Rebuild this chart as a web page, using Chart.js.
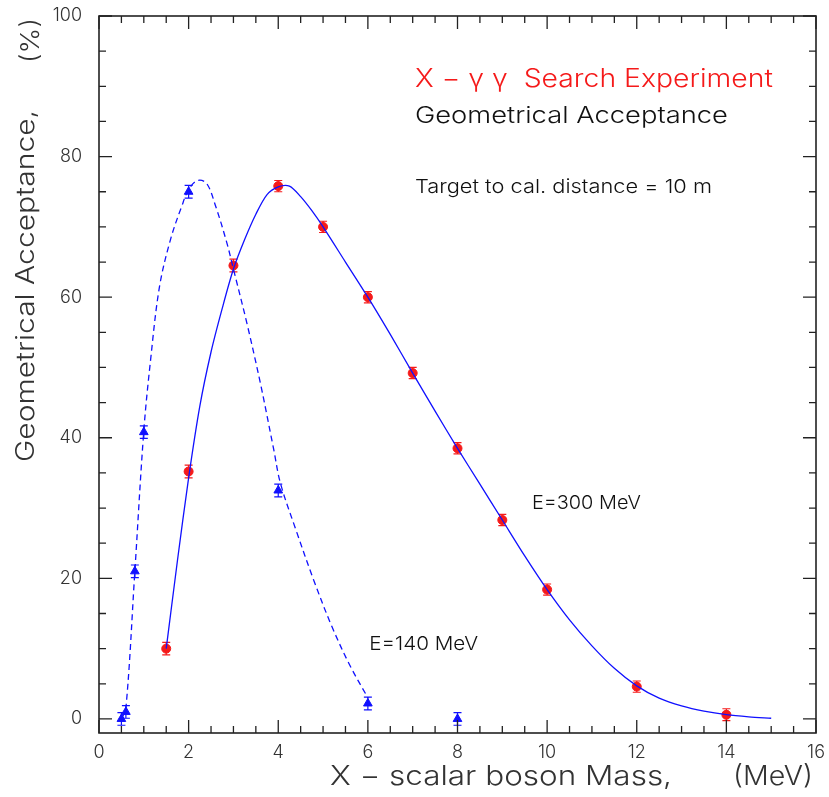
<!DOCTYPE html>
<html><head><meta charset="utf-8">
<script src="https://cdn.jsdelivr.net/npm/chart.js@4.4.0/dist/chart.umd.min.js"></script>
<style>html,body{margin:0;padding:0;background:#fff;}canvas{display:block;}</style>
</head><body>
<canvas id="c" width="829" height="797"></canvas>
<script>
// ---- data ----
const massE300 = [1.5, 2, 3, 4, 5, 6, 7, 8, 9, 10, 12, 14];
const accE300  = [10, 35.2, 64.5, 75.8, 70, 60, 49.2, 38.5, 28.3, 18.4, 4.6, 0.6];
const errE300  = [0.9, 0.9, 0.9, 0.8, 0.8, 0.8, 0.8, 0.8, 0.8, 0.8, 0.8, 0.85];

const massE140 = [0.5, 0.6, 0.8, 1.0, 2, 4, 6, 8];
const accE140  = [0, 1, 21, 40.8, 75, 32.5, 2.2, 0];
const errE140  = [0.9, 0.9, 0.9, 0.9, 0.9, 0.9, 0.9, 0.9];

const fitE300X = [1.5, 1.75, 2.0, 2.25, 2.5, 2.75, 3.0, 3.25, 3.5, 3.75, 4.0, 4.25, 4.5, 4.75, 5.0, 5.5, 6.0, 6.5, 7.0, 7.5, 8.0, 8.5, 9.0, 9.5, 10.0, 10.5, 11.0, 11.5, 12.0, 12.5, 13.0, 13.5, 14.0, 14.5, 15.0];
const fitE300Y = [10, 22.5, 34.3, 44.5, 52.2, 58.4, 64, 68.2, 71.8, 74.6, 75.7, 75.8, 74.3, 72.3, 70, 65, 60, 54.7, 49.2, 43.8, 38.5, 33.4, 28.3, 23.2, 18.4, 14.1, 10.4, 7.2, 4.7, 2.95, 1.85, 1.1, 0.6, 0.3, 0.1];

const fitE140X = [0.5, 0.6, 0.8, 1.0, 1.15, 1.35, 1.6, 1.85, 2.0, 2.2, 2.4, 2.6, 2.85, 3.0, 3.3, 3.6, 3.9, 4.05, 4.4, 4.8, 5.2, 5.6, 6.0];
const fitE140Y = [0, 1.5, 21, 41, 51, 61.5, 68.3, 73, 75.3, 76.6, 76.2, 73, 67.8, 64, 56.3, 47.8, 38.3, 33.5, 26.8, 19.6, 13.1, 7.6, 3.0];

const xTickValues = [0, 2, 4, 6, 8, 10, 12, 14, 16];
const yTickValues = [0, 20, 40, 60, 80, 100];

const titleText  = 'X \u2212 \u03b3 \u03b3  Search Experiment';
const subText    = 'Geometrical Acceptance';
const distText   = 'Target to cal. distance = 10 m';
const label300   = 'E=300 MeV';
const label140   = 'E=140 MeV';
const xTitleMain = 'X \u2212 scalar boson Mass,';
const xTitleUnit = '(MeV)';
const yTitleMain = 'Geometrical Acceptance,';
const yTitleUnit = '(%)';

// ---- styling ----
const FAM = 'Inter, "Open Sans", sans-serif';
const WT = '300';
const RED = '#f51a1a';
const BLUE = '#1010ff';

function pts(xs, ys) { return xs.map((x, i) => ({x: x, y: ys[i]})); }

function drawText(ctx, s, x, y, size, color, width, rot) {
  ctx.save();
  ctx.font = WT + ' ' + size + 'px ' + FAM;
  ctx.fillStyle = color;
  ctx.textAlign = 'left';
  ctx.textBaseline = 'alphabetic';
  const m = ctx.measureText(s).width;
  ctx.translate(x, y);
  if (rot) ctx.rotate(rot);
  if (width) ctx.scale(width / m, 1);
  ctx.fillText(s, 0, 0);
  ctx.restore();
}

const extras = {
  id: 'extras',
  beforeDatasetsDraw(chart) {
    const ctx = chart.ctx, xs = chart.scales.x, ys = chart.scales.y;
    const bars = [[massE300, accE300, errE300, RED], [massE140, accE140, errE140, BLUE]];
    ctx.save();
    ctx.lineWidth = 1.2;
    bars.forEach(([mx, my, me, col]) => {
      ctx.strokeStyle = col;
      mx.forEach((m, i) => {
        const px = xs.getPixelForValue(m);
        const y1 = ys.getPixelForValue(my[i] + me[i]);
        const y2 = ys.getPixelForValue(my[i] - me[i]);
        ctx.beginPath();
        ctx.moveTo(px, y1); ctx.lineTo(px, y2);
        ctx.moveTo(px - 4, y1); ctx.lineTo(px + 4, y1);
        ctx.moveTo(px - 4, y2); ctx.lineTo(px + 4, y2);
        ctx.stroke();
      });
    });
    ctx.restore();
  },
  afterDraw(chart) {
    const ctx = chart.ctx, xs = chart.scales.x, ys = chart.scales.y;
    const a = chart.chartArea;
    ctx.save();
    ctx.strokeStyle = '#222';
    ctx.lineWidth = 1.6;
    ctx.strokeRect(a.left, a.top, a.right - a.left, a.bottom - a.top);
    ctx.lineWidth = 1.3;
    ctx.beginPath();
    for (let v = 0; v <= 16.001; v += 0.5) {
      const px = xs.getPixelForValue(v);
      const len = (Math.abs(v % 2) < 1e-6) ? 13 : 7;
      ctx.moveTo(px, a.bottom); ctx.lineTo(px, a.bottom - len);
      ctx.moveTo(px, a.top); ctx.lineTo(px, a.top + len);
    }
    for (let v = 0; v <= 100.001; v += 5) {
      const py = ys.getPixelForValue(v);
      const len = (Math.abs(v % 20) < 1e-6) ? 13 : 7;
      ctx.moveTo(a.left, py); ctx.lineTo(a.left + len, py);
      ctx.moveTo(a.right, py); ctx.lineTo(a.right - len, py);
    }
    ctx.stroke();
    ctx.restore();

    // annotations placed in data coordinates
    drawText(ctx, titleText, xs.getPixelForValue(7.05), ys.getPixelForValue(89.9), 25, RED, 358);
    drawText(ctx, subText, xs.getPixelForValue(7.05), ys.getPixelForValue(84.8), 23, '#111', 313);
    drawText(ctx, distText, xs.getPixelForValue(7.05), ys.getPixelForValue(74.8), 19, '#111', 297);
    drawText(ctx, label300, xs.getPixelForValue(9.66), ys.getPixelForValue(29.9), 19, '#111', 109);
    drawText(ctx, label140, xs.getPixelForValue(6.03), ys.getPixelForValue(9.8), 19, '#111', 109);

    // axis titles
    drawText(ctx, xTitleMain, a.left + 231, a.bottom + 52, 27, '#333', 342);
    drawText(ctx, xTitleUnit, a.right - 83, a.bottom + 52, 27, '#333', 80);
    drawText(ctx, yTitleMain, 34, a.top + 446, 25, '#333', 352, -Math.PI / 2);
    drawText(ctx, yTitleUnit, 39, a.top + 47, 25, '#333', 45, -Math.PI / 2);
  }
};

new Chart(document.getElementById('c'), {
  type: 'scatter',
  data: {
    datasets: [
      {data: pts(fitE300X, fitE300Y), showLine: true, borderColor: BLUE, borderWidth: 1.3,
       pointRadius: 0, tension: 0.3, fill: false},
      {data: pts(fitE140X, fitE140Y), showLine: true, borderColor: BLUE, borderWidth: 1.3,
       borderDash: [6, 4], pointRadius: 0, tension: 0.35, fill: false},
      {data: pts(massE300, accE300), pointStyle: 'circle', pointRadius: 4.5,
       backgroundColor: RED, borderColor: RED, borderWidth: 1},
      {data: pts(massE140, accE140), pointStyle: 'triangle', pointRadius: 5,
       backgroundColor: BLUE, borderColor: BLUE, borderWidth: 1}
    ]
  },
  options: {
    responsive: false, animation: false, devicePixelRatio: 1,
    layout: {padding: {top: 16, right: 13, left: 0, bottom: 0}},
    plugins: {legend: {display: false}, tooltip: {enabled: false}},
    scales: {
      x: {
        type: 'linear', min: 0, max: 16,
        grid: {display: false, drawTicks: false}, border: {display: false},
        ticks: {padding: 9, color: '#333', font: {family: FAM, size: 18, weight: WT}},
        afterBuildTicks(s) { s.ticks = xTickValues.map(v => ({value: v})); },
        afterFit(s) { s.height = 64; s.paddingLeft = 0; s.paddingRight = 0; }
      },
      y: {
        type: 'linear', min: -2, max: 100,
        grid: {display: false, drawTicks: false}, border: {display: false},
        ticks: {padding: 17, color: '#333', font: {family: FAM, size: 18, weight: WT}},
        afterBuildTicks(s) { s.ticks = yTickValues.map(v => ({value: v})); },
        afterFit(s) { s.width = 99; s.paddingTop = 0; s.paddingBottom = 0; }
      }
    }
  },
  plugins: [extras]
});
</script>
</body></html>
